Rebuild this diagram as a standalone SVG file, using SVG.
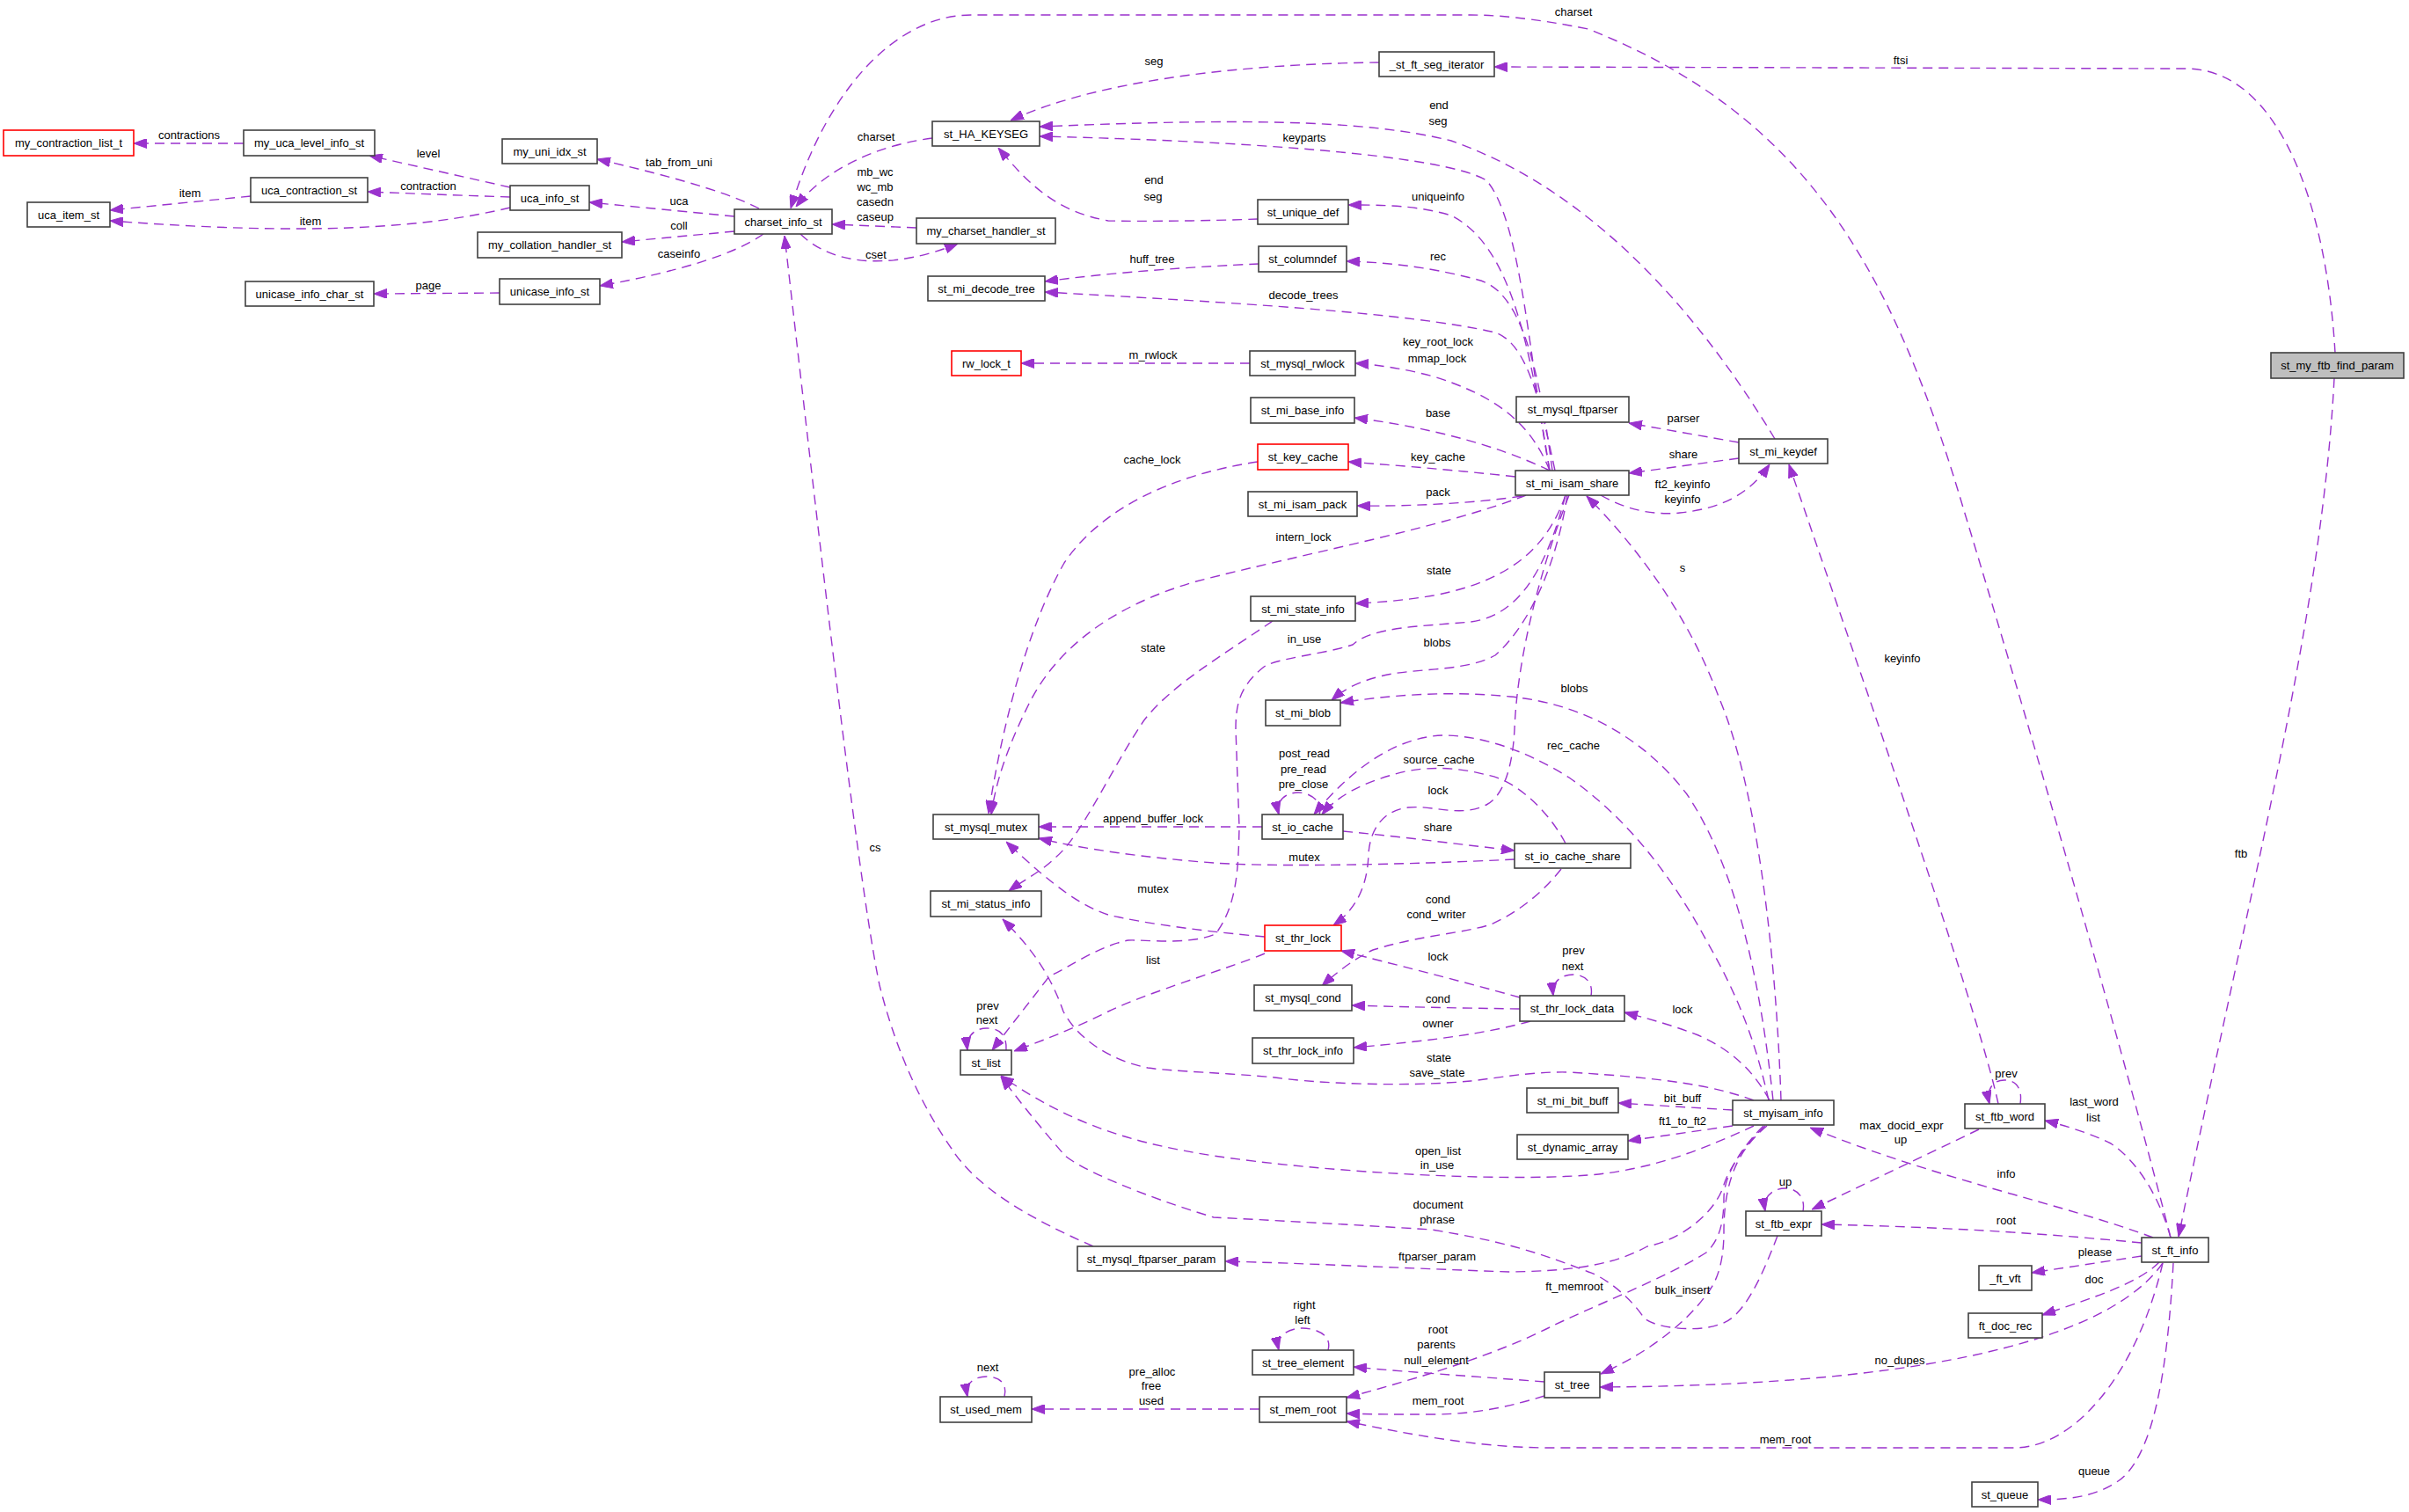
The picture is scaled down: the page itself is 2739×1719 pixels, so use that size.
<svg xmlns="http://www.w3.org/2000/svg" width="2739" height="1719" viewBox="0 0 2739 1719">
<defs>
<style>
text{font-family:"Liberation Sans",Arial,Helvetica,sans-serif;font-size:13px;fill:#000;text-anchor:middle}
.node rect{fill:#fff;stroke:#404040;stroke-width:1.6}
.node.red rect{stroke:#ff0000}
.node.main rect{fill:#bfbfbf}
#edges path{fill:none;stroke:#9a32cd;stroke-width:1.4;stroke-dasharray:11,7;marker-end:url(#arr)}
</style>
<marker id="arr" viewBox="0 0 15 11" refX="15" refY="5.5" markerWidth="15" markerHeight="11" markerUnits="userSpaceOnUse" orient="auto">
<path d="M0,0 L15,5.5 L0,11 Z" fill="#9a32cd" stroke="#9a32cd" stroke-width="1"/>
</marker>
</defs>
<rect width="2739" height="1719" fill="#fff"/>
<g id="edges">
<path d="M277,163 L152,163"/>
<path d="M580,213 L420,177"/>
<path d="M580,224 C520,222 470,220 418,218"/>
<path d="M285,223 L125,239"/>
<path d="M580,236 C480,260 350,268 125,251"/>
<path d="M568,333 L425,334"/>
<path d="M863,237 C820,215 740,195 679,181"/>
<path d="M835,246 L670,230"/>
<path d="M835,263 L707,275"/>
<path d="M868,266 Q820,300 682,325"/>
<path d="M1060,157 C1000,165 940,190 905,235"/>
<path d="M1042,259 L946,255"/>
<path d="M910,266 C950,305 1020,305 1089,277"/>
<path d="M2468,1407 C2420,1220 2330,900 2232,577 C2150,300 2050,130 1806,33 C1740,20 1700,17 1672,17 L1104,17 C1020,17 940,100 899,237"/>
<path d="M2018,499 C1940,370 1820,220 1650,160 C1550,135 1400,135 1182,144"/>
<path d="M1762,535 C1740,420 1730,250 1690,205 C1640,175 1400,160 1182,155"/>
<path d="M1430,249 C1380,251 1300,252 1260,251 C1200,240 1170,210 1135,168"/>
<path d="M1568,71 C1450,72 1260,85 1149,137"/>
<path d="M2655,401 C2645,230 2590,78 2485,78 L1699,76"/>
<path d="M2654,430 C2640,700 2560,1000 2477,1406"/>
<path d="M2272,1255 C2250,1150 2110,750 2034,528"/>
<path d="M2297,1255 C2300,1235 2290,1228 2279,1228 C2266,1228 2258,1238 2262,1255"/>
<path d="M2468,1407 C2455,1360 2430,1320 2400,1300 C2380,1290 2350,1280 2325,1274"/>
<path d="M2250,1284 L2060,1375"/>
<path d="M2448,1407 C2350,1370 2200,1340 2058,1282"/>
<path d="M2435,1413 C2300,1400 2200,1395 2071,1392"/>
<path d="M2435,1428 L2310,1447"/>
<path d="M2455,1435 C2430,1460 2380,1475 2322,1495"/>
<path d="M2459,1436 C2400,1520 2200,1575 1819,1577"/>
<path d="M2459,1436 C2430,1560 2360,1646 2290,1646 L1762,1646 C1680,1646 1600,1630 1531,1616"/>
<path d="M2471,1436 C2465,1550 2450,1660 2405,1686 C2380,1702 2350,1705 2317,1705"/>
<path d="M1977,503 L1852,481"/>
<path d="M1977,521 L1852,538"/>
<path d="M1820,563 C1850,580 1880,586 1910,583 C1960,578 1990,560 2012,528"/>
<path d="M1762,535 C1740,400 1720,280 1650,245 C1610,233 1570,233 1533,233"/>
<path d="M1765,535 C1750,420 1730,330 1680,318 C1620,302 1570,298 1531,297"/>
<path d="M1768,535 C1750,450 1735,390 1700,378 C1600,355 1400,344 1188,332"/>
<path d="M1431,300 C1360,303 1260,310 1188,320"/>
<path d="M1762,535 C1740,480 1700,450 1630,428 C1600,420 1570,415 1541,413"/>
<path d="M1421,413 L1161,413"/>
<path d="M1762,535 C1700,505 1620,485 1540,475"/>
<path d="M1723,542 C1660,535 1600,530 1533,525"/>
<path d="M1430,525 C1330,540 1250,580 1210,640 C1170,710 1140,820 1124,925"/>
<path d="M1730,564 C1680,572 1600,576 1543,575"/>
<path d="M1735,563 C1640,600 1480,630 1360,661 C1260,690 1200,740 1170,800 C1145,850 1132,890 1127,926"/>
<path d="M1780,563 C1760,620 1720,660 1630,677 C1600,682 1570,685 1541,686"/>
<path d="M1447,706 C1390,745 1330,780 1300,820 C1260,880 1230,950 1200,975 C1185,990 1165,1000 1147,1013"/>
<path d="M1780,563 C1760,640 1730,700 1672,707 C1620,712 1560,712 1538,733 C1500,745 1450,748 1436,759 C1410,780 1405,800 1405,829 L1409,940 C1408,990 1406,1030 1382,1062 C1350,1075 1300,1068 1283,1069 C1250,1075 1215,1100 1193,1110 C1170,1140 1150,1165 1128,1194"/>
<path d="M1438,1084 C1400,1100 1300,1130 1260,1150 C1220,1170 1180,1185 1153,1195"/>
<path d="M1144,1194 C1145,1175 1135,1169 1122,1169 C1108,1169 1098,1178 1100,1194"/>
<path d="M1994,1280 C1940,1305 1880,1330 1806,1336 C1700,1344 1500,1332 1380,1314 C1290,1300 1220,1280 1138,1223"/>
<path d="M2021,1405 C2000,1460 1980,1500 1954,1506 C1930,1515 1880,1510 1869,1498 C1850,1470 1820,1450 1806,1446 C1740,1420 1700,1410 1628,1398 C1500,1390 1400,1385 1380,1384 C1300,1360 1230,1330 1211,1314 C1190,1290 1165,1260 1138,1224"/>
<path d="M2025,1251 C2020,1100 2000,900 1954,792 C1920,700 1860,620 1804,564"/>
<path d="M2016,1251 C2000,1100 1970,980 1918,903 C1870,840 1800,800 1717,792 C1650,785 1580,790 1524,799"/>
<path d="M1782,563 C1770,640 1740,710 1700,745 C1670,762 1620,760 1583,766 C1550,772 1530,782 1514,796"/>
<path d="M2011,1251 C1995,1180 1975,1130 1940,1069 C1900,995 1850,930 1784,884 C1730,850 1680,836 1640,836 C1590,838 1540,870 1494,926"/>
<path d="M1780,959 C1760,920 1720,885 1690,881 C1650,870 1610,872 1583,881 C1550,890 1520,905 1503,926"/>
<path d="M1500,926 C1505,912 1490,901 1476,901 C1462,901 1450,910 1454,926"/>
<path d="M1784,563 C1750,650 1725,750 1722,829 C1720,870 1710,905 1690,915 C1660,930 1630,915 1601,918 C1570,922 1558,945 1556,970 C1555,1010 1540,1035 1516,1052"/>
<path d="M1435,940 L1181,940"/>
<path d="M1722,977 C1600,983 1450,986 1380,981 C1300,975 1230,965 1181,953"/>
<path d="M1527,945 C1600,952 1660,960 1722,967"/>
<path d="M1438,1065 C1380,1060 1300,1050 1260,1040 C1230,1030 1200,1010 1144,957"/>
<path d="M1775,988 C1750,1020 1720,1040 1695,1051 C1660,1062 1620,1062 1561,1080 C1540,1090 1520,1105 1503,1121"/>
<path d="M1728,1134 C1660,1115 1580,1095 1525,1081"/>
<path d="M1809,1132 C1812,1115 1800,1108 1789,1108 C1776,1108 1764,1115 1766,1132"/>
<path d="M1728,1147 C1660,1146 1600,1145 1537,1143"/>
<path d="M1740,1161 C1690,1175 1630,1183 1539,1191"/>
<path d="M2012,1251 C1990,1210 1960,1190 1931,1177 C1900,1165 1870,1157 1847,1151"/>
<path d="M1994,1251 C1950,1235 1900,1226 1784,1219 C1740,1218 1700,1226 1672,1229 C1600,1236 1500,1232 1449,1225 C1400,1220 1330,1218 1305,1214 C1260,1205 1225,1180 1209,1150 C1195,1110 1175,1080 1140,1045"/>
<path d="M1970,1262 L1840,1254"/>
<path d="M1970,1280 L1851,1297"/>
<path d="M2007,1280 C1985,1300 1965,1330 1960,1347 C1950,1380 1910,1410 1873,1417 C1840,1435 1800,1445 1717,1446 C1600,1442 1480,1436 1393,1434"/>
<path d="M2005,1280 C1975,1310 1960,1340 1960,1362 C1960,1390 1955,1410 1940,1424 C1900,1450 1800,1490 1762,1509 C1700,1540 1620,1565 1531,1589"/>
<path d="M2009,1280 C1985,1300 1960,1330 1960,1400 C1960,1440 1950,1460 1940,1472 C1920,1500 1880,1535 1820,1562"/>
<path d="M1756,1571 C1680,1565 1600,1560 1539,1554"/>
<path d="M1756,1587 C1720,1598 1680,1608 1628,1608 C1590,1608 1560,1608 1531,1607"/>
<path d="M1510,1535 C1515,1517 1495,1510 1481,1510 C1466,1510 1450,1518 1454,1535"/>
<path d="M1432,1602 L1173,1602"/>
<path d="M1142,1588 C1146,1572 1135,1565 1122,1565 C1108,1565 1097,1572 1100,1588"/>
<path d="M1243,1417 C1170,1385 1110,1350 1082,1306 C1050,1260 1020,1200 1000,1120 C975,1000 930,600 892,268"/>
<path d="M2050,1377 C2053,1360 2042,1351 2030,1351 C2016,1351 2004,1360 2007,1377"/>
</g>
<g id="edge-labels">
<text x="215" y="157.5">contractions</text>
<text x="487" y="179">level</text>
<text x="487" y="215.5">contraction</text>
<text x="216" y="223.5">item</text>
<text x="353" y="255.5">item</text>
<text x="487" y="329">page</text>
<text x="772" y="188.5">tab_from_uni</text>
<text x="772" y="232.5">uca</text>
<text x="772" y="261">coll</text>
<text x="772" y="292.5">caseinfo</text>
<text x="996" y="160">charset</text>
<text x="995" y="199.5">mb_wc</text>
<text x="995" y="216.5">wc_mb</text>
<text x="995" y="233.5">casedn</text>
<text x="995" y="251">caseup</text>
<text x="996" y="293.5">cset</text>
<text x="1789" y="17.5">charset</text>
<text x="1636" y="124">end</text>
<text x="1635" y="141.5">seg</text>
<text x="1483" y="161">keyparts</text>
<text x="1312" y="209">end</text>
<text x="1311" y="227.5">seg</text>
<text x="1312" y="73.5">seg</text>
<text x="2161" y="73">ftsi</text>
<text x="2548" y="974.5">ftb</text>
<text x="2163" y="753">keyinfo</text>
<text x="2281" y="1225">prev</text>
<text x="2381" y="1257">last_word</text>
<text x="2380" y="1275">list</text>
<text x="2162" y="1283.5">max_docid_expr</text>
<text x="2161" y="1300">up</text>
<text x="2281" y="1339">info</text>
<text x="2281" y="1392">root</text>
<text x="2382" y="1428">please</text>
<text x="2381" y="1459">doc</text>
<text x="2160" y="1551">no_dupes</text>
<text x="2030" y="1641">mem_root</text>
<text x="2381" y="1677">queue</text>
<text x="1914" y="479.5">parser</text>
<text x="1914" y="521">share</text>
<text x="1913" y="555">ft2_keyinfo</text>
<text x="1913" y="572">keyinfo</text>
<text x="1635" y="228">uniqueinfo</text>
<text x="1635" y="295.5">rec</text>
<text x="1482" y="340">decode_trees</text>
<text x="1310" y="299">huff_tree</text>
<text x="1635" y="393">key_root_lock</text>
<text x="1634" y="411.5">mmap_lock</text>
<text x="1311" y="408">m_rwlock</text>
<text x="1635" y="473.5">base</text>
<text x="1635" y="524">key_cache</text>
<text x="1310" y="527">cache_lock</text>
<text x="1635" y="564">pack</text>
<text x="1482" y="615">intern_lock</text>
<text x="1636" y="653">state</text>
<text x="1311" y="741">state</text>
<text x="1483" y="731">in_use</text>
<text x="1311" y="1096">list</text>
<text x="1123" y="1148">prev</text>
<text x="1122" y="1164">next</text>
<text x="1635" y="1312.5">open_list</text>
<text x="1634" y="1329">in_use</text>
<text x="1635" y="1373.5">document</text>
<text x="1634" y="1391">phrase</text>
<text x="1913" y="649.5">s</text>
<text x="1790" y="787">blobs</text>
<text x="1634" y="735">blobs</text>
<text x="1789" y="852">rec_cache</text>
<text x="1636" y="867.5">source_cache</text>
<text x="1483" y="861">post_read</text>
<text x="1482" y="879">pre_read</text>
<text x="1482" y="896">pre_close</text>
<text x="1635" y="903">lock</text>
<text x="1311" y="935">append_buffer_lock</text>
<text x="1483" y="979">mutex</text>
<text x="1635" y="945">share</text>
<text x="1311" y="1015">mutex</text>
<text x="1635" y="1027">cond</text>
<text x="1633" y="1044">cond_writer</text>
<text x="1635" y="1092">lock</text>
<text x="1789" y="1085">prev</text>
<text x="1788" y="1103">next</text>
<text x="1635" y="1140">cond</text>
<text x="1635" y="1167.5">owner</text>
<text x="1913" y="1152">lock</text>
<text x="1636" y="1207">state</text>
<text x="1634" y="1224">save_state</text>
<text x="1913" y="1252.5">bit_buff</text>
<text x="1913" y="1279">ft1_to_ft2</text>
<text x="1634" y="1432.5">ftparser_param</text>
<text x="1790" y="1467">ft_memroot</text>
<text x="1913" y="1470.5">bulk_insert</text>
<text x="1635" y="1516">root</text>
<text x="1633" y="1533">parents</text>
<text x="1633" y="1551">null_element</text>
<text x="1635" y="1596.5">mem_root</text>
<text x="1483" y="1488">right</text>
<text x="1481" y="1504.5">left</text>
<text x="1310" y="1563.5">pre_alloc</text>
<text x="1309" y="1580">free</text>
<text x="1309" y="1597">used</text>
<text x="1123" y="1559">next</text>
<text x="995" y="968">cs</text>
<text x="2030" y="1347.5">up</text>
</g>
<g id="n1" class="node red"><rect x="4" y="148" width="148" height="29"/><text x="78" y="167">my_contraction_list_t</text></g>
<g id="n2" class="node"><rect x="277" y="148" width="149" height="29"/><text x="351.5" y="167">my_uca_level_info_st</text></g>
<g id="n3" class="node"><rect x="571" y="158" width="108" height="28"/><text x="625" y="176.5">my_uni_idx_st</text></g>
<g id="n4" class="node"><rect x="285" y="202" width="133" height="28"/><text x="351.5" y="220.5">uca_contraction_st</text></g>
<g id="n5" class="node"><rect x="580" y="211" width="90" height="28"/><text x="625" y="229.5">uca_info_st</text></g>
<g id="n6" class="node"><rect x="31" y="230" width="94" height="28"/><text x="78" y="248.5">uca_item_st</text></g>
<g id="n7" class="node"><rect x="543" y="264" width="164" height="29"/><text x="625" y="283">my_collation_handler_st</text></g>
<g id="n8" class="node"><rect x="279" y="320" width="146" height="28"/><text x="352" y="338.5">unicase_info_char_st</text></g>
<g id="n9" class="node"><rect x="568" y="317" width="114" height="29"/><text x="625" y="336">unicase_info_st</text></g>
<g id="n10" class="node"><rect x="835" y="238" width="111" height="28"/><text x="890.5" y="256.5">charset_info_st</text></g>
<g id="n11" class="node"><rect x="1060" y="138" width="122" height="28"/><text x="1121" y="156.5">st_HA_KEYSEG</text></g>
<g id="n12" class="node"><rect x="1042" y="248" width="158" height="29"/><text x="1121" y="267">my_charset_handler_st</text></g>
<g id="n13" class="node"><rect x="1055" y="314" width="133" height="28"/><text x="1121.5" y="332.5">st_mi_decode_tree</text></g>
<g id="n14" class="node red"><rect x="1082" y="399" width="79" height="28"/><text x="1121.5" y="417.5">rw_lock_t</text></g>
<g id="n15" class="node"><rect x="1568" y="59" width="131" height="28"/><text x="1633.5" y="77.5">_st_ft_seg_iterator</text></g>
<g id="n16" class="node"><rect x="1430" y="227" width="103" height="28"/><text x="1481.5" y="245.5">st_unique_def</text></g>
<g id="n17" class="node"><rect x="1431" y="280" width="100" height="29"/><text x="1481" y="299">st_columndef</text></g>
<g id="n18" class="node"><rect x="1421" y="399" width="120" height="28"/><text x="1481" y="417.5">st_mysql_rwlock</text></g>
<g id="n19" class="node"><rect x="1422" y="452" width="118" height="29"/><text x="1481" y="471">st_mi_base_info</text></g>
<g id="n20" class="node red"><rect x="1430" y="505" width="103" height="29"/><text x="1481.5" y="524">st_key_cache</text></g>
<g id="n21" class="node"><rect x="1419" y="559" width="124" height="28"/><text x="1481" y="577.5">st_mi_isam_pack</text></g>
<g id="n22" class="node"><rect x="1724" y="451" width="128" height="29"/><text x="1788" y="470">st_mysql_ftparser</text></g>
<g id="n23" class="node"><rect x="1977" y="499" width="101" height="28"/><text x="2027.5" y="517.5">st_mi_keydef</text></g>
<g id="n24" class="node"><rect x="1723" y="535" width="129" height="28"/><text x="1787.5" y="553.5">st_mi_isam_share</text></g>
<g id="n25" class="node main"><rect x="2582" y="401" width="151" height="29"/><text x="2657.5" y="420">st_my_ftb_find_param</text></g>
<g id="n26" class="node"><rect x="1061" y="926" width="120" height="28"/><text x="1121" y="944.5">st_mysql_mutex</text></g>
<g id="n27" class="node"><rect x="1058" y="1013" width="126" height="29"/><text x="1121" y="1032">st_mi_status_info</text></g>
<g id="n28" class="node"><rect x="1422" y="678" width="119" height="28"/><text x="1481.5" y="696.5">st_mi_state_info</text></g>
<g id="n29" class="node"><rect x="1439" y="796" width="85" height="29"/><text x="1481.5" y="815">st_mi_blob</text></g>
<g id="n30" class="node"><rect x="1435" y="926" width="92" height="28"/><text x="1481" y="944.5">st_io_cache</text></g>
<g id="n31" class="node"><rect x="1722" y="959" width="132" height="28"/><text x="1788" y="977.5">st_io_cache_share</text></g>
<g id="n32" class="node red"><rect x="1438" y="1052" width="87" height="29"/><text x="1481.5" y="1071">st_thr_lock</text></g>
<g id="n33" class="node"><rect x="1426" y="1120" width="111" height="29"/><text x="1481.5" y="1139">st_mysql_cond</text></g>
<g id="n34" class="node"><rect x="1728" y="1132" width="119" height="29"/><text x="1787.5" y="1151">st_thr_lock_data</text></g>
<g id="n35" class="node"><rect x="1092" y="1194" width="58" height="28"/><text x="1121" y="1212.5">st_list</text></g>
<g id="n36" class="node"><rect x="1225" y="1417" width="168" height="28"/><text x="1309" y="1435.5">st_mysql_ftparser_param</text></g>
<g id="n37" class="node"><rect x="1069" y="1588" width="104" height="29"/><text x="1121" y="1607">st_used_mem</text></g>
<g id="n38" class="node"><rect x="1424" y="1180" width="115" height="29"/><text x="1481.5" y="1199">st_thr_lock_info</text></g>
<g id="n39" class="node"><rect x="1736" y="1237" width="104" height="28"/><text x="1788" y="1255.5">st_mi_bit_buff</text></g>
<g id="n40" class="node"><rect x="1725" y="1290" width="126" height="28"/><text x="1788" y="1308.5">st_dynamic_array</text></g>
<g id="n41" class="node"><rect x="1970" y="1251" width="115" height="28"/><text x="2027.5" y="1269.5">st_myisam_info</text></g>
<g id="n42" class="node"><rect x="1985" y="1377" width="86" height="28"/><text x="2028" y="1395.5">st_ftb_expr</text></g>
<g id="n43" class="node"><rect x="1424" y="1535" width="115" height="28"/><text x="1481.5" y="1553.5">st_tree_element</text></g>
<g id="n44" class="node"><rect x="1756" y="1560" width="63" height="29"/><text x="1787.5" y="1579">st_tree</text></g>
<g id="n45" class="node"><rect x="1432" y="1588" width="99" height="29"/><text x="1481.5" y="1607">st_mem_root</text></g>
<g id="n46" class="node"><rect x="2234" y="1255" width="91" height="28"/><text x="2279.5" y="1273.5">st_ftb_word</text></g>
<g id="n47" class="node"><rect x="2435" y="1407" width="76" height="28"/><text x="2473" y="1425.5">st_ft_info</text></g>
<g id="n48" class="node"><rect x="2250" y="1439" width="60" height="28"/><text x="2280" y="1457.5">_ft_vft</text></g>
<g id="n49" class="node"><rect x="2238" y="1493" width="84" height="28"/><text x="2280" y="1511.5">ft_doc_rec</text></g>
<g id="n50" class="node"><rect x="2242" y="1685" width="75" height="28"/><text x="2279.5" y="1703.5">st_queue</text></g>
</svg>
